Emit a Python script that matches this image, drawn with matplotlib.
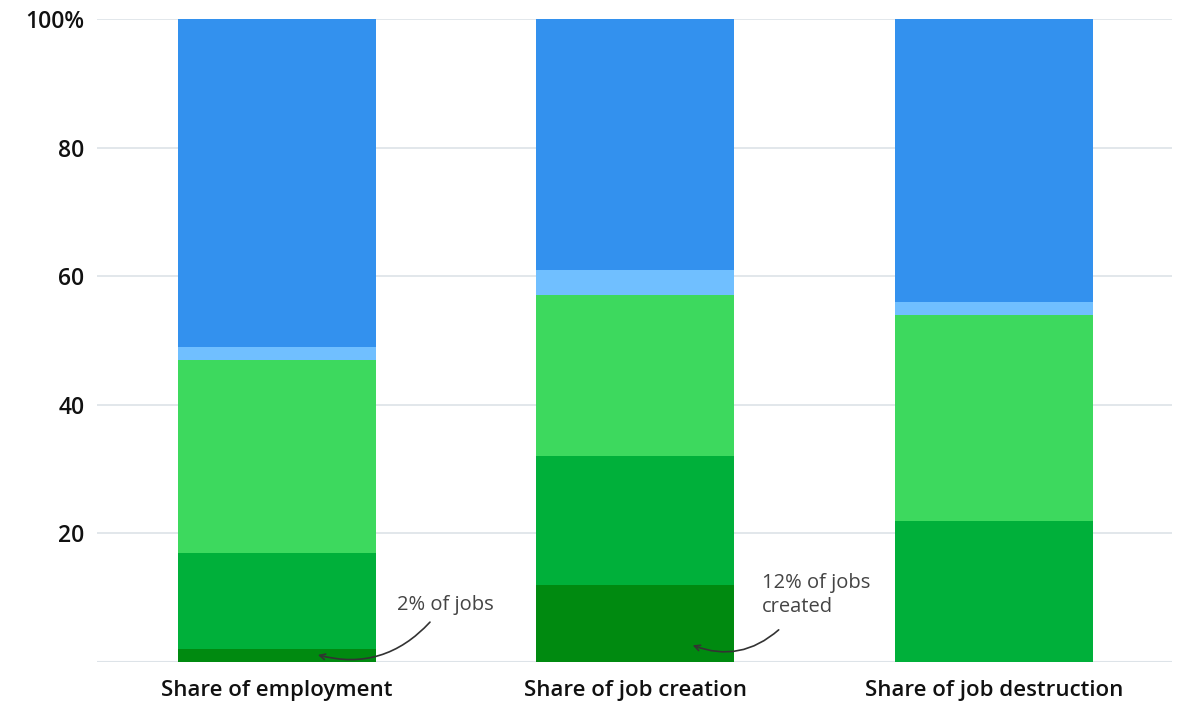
import matplotlib.pyplot as plt
import numpy as np

plt.rcParams['font.family'] = ['Open Sans', 'DejaVu Sans']

categories = ["Share of employment", "Share of job creation", "Share of job destruction"]
# stacked segments bottom to top
seg_darkgreen = [2, 12, 0]
seg_green = [15, 20, 22]
seg_lightgreen = [30, 25, 32]
seg_lightblue = [2, 4, 2]
seg_blue = [51, 39, 44]
yticks = [20, 40, 60, 80, 100]
ytick_labels = ["20", "40", "60", "80", "100%"]

segments = [seg_darkgreen, seg_green, seg_lightgreen, seg_lightblue, seg_blue]
colors = ["#008a10", "#00b03a", "#3dd95e", "#70bfff", "#3391ee"]

fig = plt.figure(figsize=(11.85, 7.02), dpi=100)
ax = fig.add_axes([0.0819, 0.057, 0.907, 0.916])

x = np.arange(len(categories))
bottom = np.zeros(len(categories))
for seg, c in zip(segments, colors):
    ax.bar(x, seg, bottom=bottom, width=0.552, color=c, zorder=2)
    bottom += np.array(seg)

ax.set_xlim(-0.502, 2.497)
ax.set_ylim(0, 100)
ax.set_yticks(yticks)
ax.set_yticklabels(ytick_labels)
ax.set_xticks(x)
ax.set_xticklabels(categories)
ax.grid(axis='y', color='#dde3e8', linewidth=1.2, zorder=0)
ax.axhline(0, color='#dde3e8', linewidth=1.5, zorder=1)
for s in ax.spines.values():
    s.set_visible(False)
ax.tick_params(axis='both', length=0, labelcolor='#111111')
ax.tick_params(axis='x', labelsize=16, pad=13)
ax.tick_params(axis='y', labelsize=16.5, pad=9)
for lbl in ax.get_xticklabels() + ax.get_yticklabels():
    lbl.set_fontweight('semibold')

# annotations
ax.text(0.335, 8.9, "2% of jobs", fontsize=14.5, color='#444444', ha='left', va='center', zorder=5)
ax.annotate("", xy=(0.114, 1.1), xytext=(0.427, 6.2),
            arrowprops=dict(arrowstyle='->', color='#333333', lw=1.2,
                            connectionstyle='arc3,rad=-0.3', shrinkA=0, shrinkB=0),
            zorder=5)
ax.text(1.353, 10.4, "12% of jobs\ncreated", fontsize=14.5, color='#444444', ha='left', va='center',
        linespacing=1.3, zorder=5)
ax.annotate("", xy=(1.16, 2.6), xytext=(1.40, 5.0),
            arrowprops=dict(arrowstyle='->', color='#333333', lw=1.2,
                            connectionstyle='arc3,rad=-0.3', shrinkA=0, shrinkB=0),
            zorder=5)

fig.savefig("out.png", dpi=100)
